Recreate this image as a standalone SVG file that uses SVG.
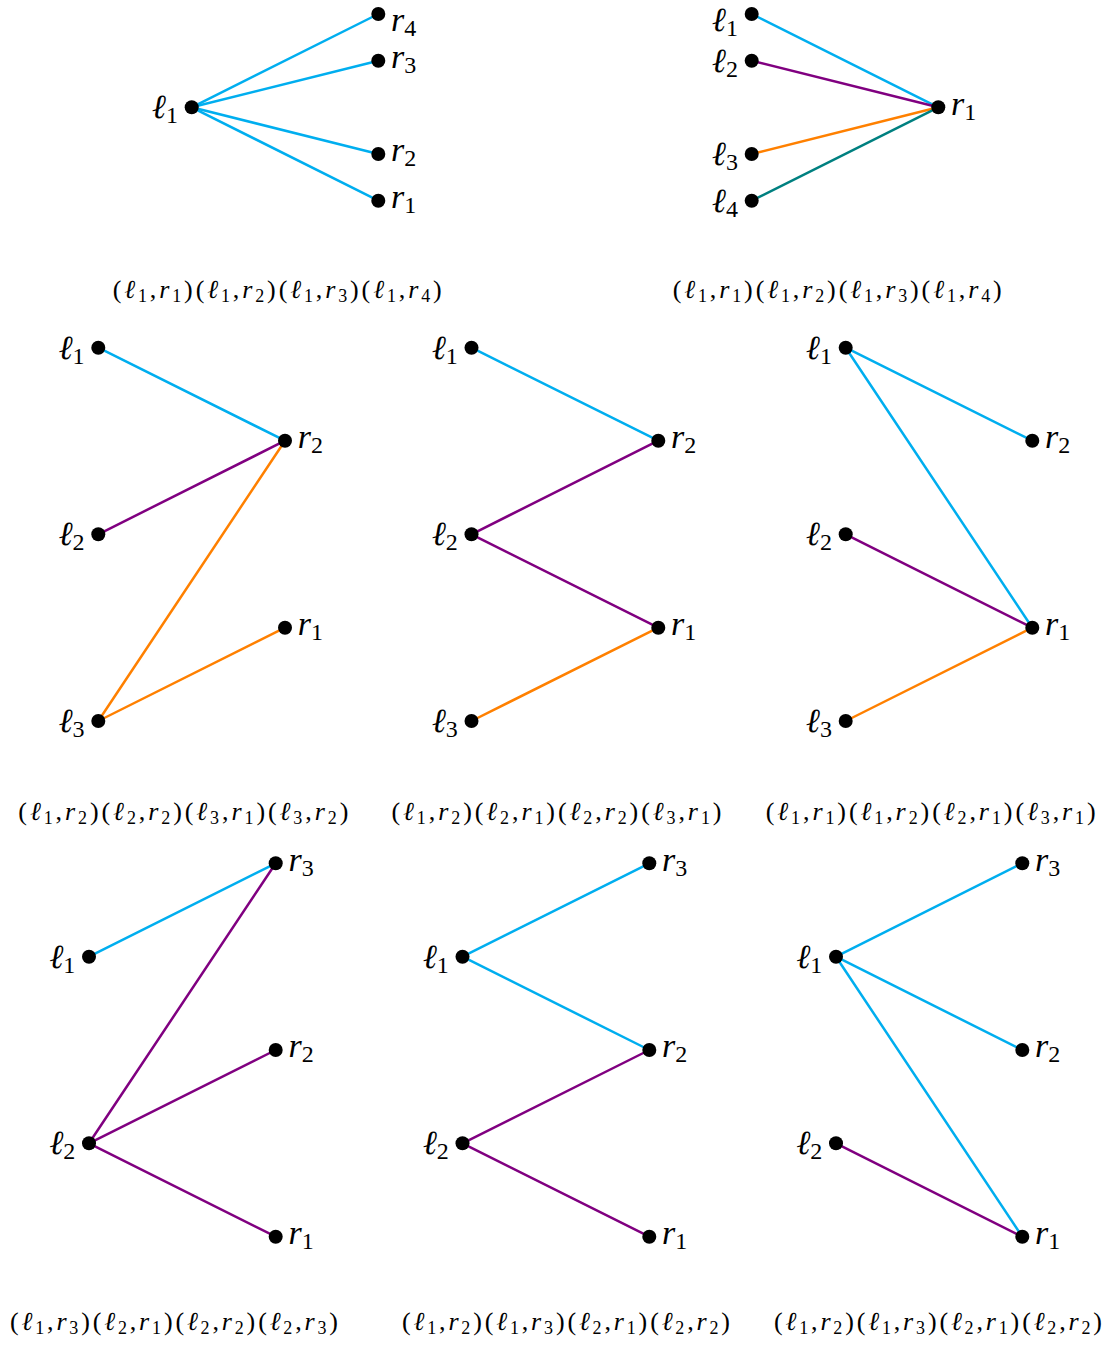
<svg xmlns="http://www.w3.org/2000/svg" width="1112" height="1351" viewBox="0 0 1112 1351">
<style>
.e{stroke-width:2.5;fill:none;stroke-linecap:round}
.c{stroke:#00AEEF}.p{stroke:#800080}.o{stroke:#FF8000}.t{stroke:#008080}
.d{fill:#000}
.lab{font-family:"Liberation Serif","DejaVu Serif",serif;font-size:34px;fill:#000}
.lab .v{font-style:italic}
.lab .s{font-size:24px}
.le{text-anchor:end}
.cap{font-family:"Liberation Serif","DejaVu Serif",serif;font-size:26px;fill:#000}
.cap .v{font-style:italic}
.cap .s{font-size:18px}
</style>
<rect width="1112" height="1351" fill="#fff"/>
<g id="connectors">
<line class="e c" x1="191.7" y1="107.3" x2="378.3" y2="14"/>
<line class="e c" x1="191.7" y1="107.3" x2="378.3" y2="60.7"/>
<line class="e c" x1="191.7" y1="107.3" x2="378.3" y2="154"/>
<line class="e c" x1="191.7" y1="107.3" x2="378.3" y2="200.7"/>
<line class="e c" x1="751.7" y1="14" x2="938.3" y2="107.3"/>
<line class="e p" x1="751.7" y1="60.7" x2="938.3" y2="107.3"/>
<line class="e o" x1="751.7" y1="154" x2="938.3" y2="107.3"/>
<line class="e t" x1="751.7" y1="200.7" x2="938.3" y2="107.3"/>
<line class="e c" x1="98.3" y1="347.7" x2="285" y2="440.7"/>
<line class="e p" x1="98.3" y1="534.3" x2="285" y2="440.7"/>
<line class="e o" x1="98.3" y1="721" x2="285" y2="440.7"/>
<line class="e o" x1="98.3" y1="721" x2="285" y2="627.7"/>
<line class="e c" x1="471.5" y1="347.7" x2="658.3" y2="440.7"/>
<line class="e p" x1="471.5" y1="534.3" x2="658.3" y2="440.7"/>
<line class="e p" x1="471.5" y1="534.3" x2="658.3" y2="627.7"/>
<line class="e o" x1="471.5" y1="721" x2="658.3" y2="627.7"/>
<line class="e c" x1="845.7" y1="347.7" x2="1032.3" y2="440.7"/>
<line class="e c" x1="845.7" y1="347.7" x2="1032.3" y2="627.7"/>
<line class="e p" x1="845.7" y1="534.3" x2="1032.3" y2="627.7"/>
<line class="e o" x1="845.7" y1="721" x2="1032.3" y2="627.7"/>
<line class="e c" x1="89" y1="956.7" x2="275.7" y2="863.3"/>
<line class="e p" x1="89" y1="1143.3" x2="275.7" y2="863.3"/>
<line class="e p" x1="89" y1="1143.3" x2="275.7" y2="1050"/>
<line class="e p" x1="89" y1="1143.3" x2="275.7" y2="1236.7"/>
<line class="e c" x1="462.5" y1="956.7" x2="649.3" y2="863.3"/>
<line class="e c" x1="462.5" y1="956.7" x2="649.3" y2="1050"/>
<line class="e p" x1="462.5" y1="1143.3" x2="649.3" y2="1050"/>
<line class="e p" x1="462.5" y1="1143.3" x2="649.3" y2="1236.7"/>
<line class="e c" x1="836" y1="956.7" x2="1022.3" y2="863.3"/>
<line class="e c" x1="836" y1="956.7" x2="1022.3" y2="1050"/>
<line class="e c" x1="836" y1="956.7" x2="1022.3" y2="1236.7"/>
<line class="e p" x1="836" y1="1143.3" x2="1022.3" y2="1236.7"/>
</g>

<g id="p1">
<g id="p1-l1"><circle class="d" cx="191.7" cy="107.3" r="7"/><text class="lab le" x="178" y="118.3"><tspan class="v">ℓ</tspan><tspan class="s" dy="5">1</tspan></text></g>
<g id="p1-r4"><circle class="d" cx="378.3" cy="14" r="7"/><text class="lab" x="391" y="30.5"><tspan class="v">r</tspan><tspan class="s" dy="5">4</tspan></text></g>
<g id="p1-r3"><circle class="d" cx="378.3" cy="60.7" r="7"/><text class="lab" x="391" y="68"><tspan class="v">r</tspan><tspan class="s" dy="5">3</tspan></text></g>
<g id="p1-r2"><circle class="d" cx="378.3" cy="154" r="7"/><text class="lab" x="391" y="161.3"><tspan class="v">r</tspan><tspan class="s" dy="5">2</tspan></text></g>
<g id="p1-r1"><circle class="d" cx="378.3" cy="200.7" r="7"/><text class="lab" x="391" y="208"><tspan class="v">r</tspan><tspan class="s" dy="5">1</tspan></text></g>
<text id="p1-cap" class="cap" x="112.7" y="298" textLength="329" lengthAdjust="spacing">(<tspan class="v">ℓ</tspan><tspan class="s" dy="4">1</tspan><tspan dy="-4">,</tspan><tspan class="v">r</tspan><tspan class="s" dy="4">1</tspan><tspan dy="-4">)(</tspan><tspan class="v">ℓ</tspan><tspan class="s" dy="4">1</tspan><tspan dy="-4">,</tspan><tspan class="v">r</tspan><tspan class="s" dy="4">2</tspan><tspan dy="-4">)(</tspan><tspan class="v">ℓ</tspan><tspan class="s" dy="4">1</tspan><tspan dy="-4">,</tspan><tspan class="v">r</tspan><tspan class="s" dy="4">3</tspan><tspan dy="-4">)(</tspan><tspan class="v">ℓ</tspan><tspan class="s" dy="4">1</tspan><tspan dy="-4">,</tspan><tspan class="v">r</tspan><tspan class="s" dy="4">4</tspan><tspan dy="-4">)</tspan></text>
</g>

<g id="p2">
<g id="p2-l1"><circle class="d" cx="751.7" cy="14" r="7"/><text class="lab le" x="738" y="31"><tspan class="v">ℓ</tspan><tspan class="s" dy="5">1</tspan></text></g>
<g id="p2-l2"><circle class="d" cx="751.7" cy="60.7" r="7"/><text class="lab le" x="738" y="71.7"><tspan class="v">ℓ</tspan><tspan class="s" dy="5">2</tspan></text></g>
<g id="p2-l3"><circle class="d" cx="751.7" cy="154" r="7"/><text class="lab le" x="738" y="165"><tspan class="v">ℓ</tspan><tspan class="s" dy="5">3</tspan></text></g>
<g id="p2-l4"><circle class="d" cx="751.7" cy="200.7" r="7"/><text class="lab le" x="738" y="211.7"><tspan class="v">ℓ</tspan><tspan class="s" dy="5">4</tspan></text></g>
<g id="p2-r1"><circle class="d" cx="938.3" cy="107.3" r="7"/><text class="lab" x="951" y="114.6"><tspan class="v">r</tspan><tspan class="s" dy="5">1</tspan></text></g>
<text id="p2-cap" class="cap" x="672.7" y="298" textLength="329" lengthAdjust="spacing">(<tspan class="v">ℓ</tspan><tspan class="s" dy="4">1</tspan><tspan dy="-4">,</tspan><tspan class="v">r</tspan><tspan class="s" dy="4">1</tspan><tspan dy="-4">)(</tspan><tspan class="v">ℓ</tspan><tspan class="s" dy="4">1</tspan><tspan dy="-4">,</tspan><tspan class="v">r</tspan><tspan class="s" dy="4">2</tspan><tspan dy="-4">)(</tspan><tspan class="v">ℓ</tspan><tspan class="s" dy="4">1</tspan><tspan dy="-4">,</tspan><tspan class="v">r</tspan><tspan class="s" dy="4">3</tspan><tspan dy="-4">)(</tspan><tspan class="v">ℓ</tspan><tspan class="s" dy="4">1</tspan><tspan dy="-4">,</tspan><tspan class="v">r</tspan><tspan class="s" dy="4">4</tspan><tspan dy="-4">)</tspan></text>
</g>

<g id="p3">
<g id="p3-l1"><circle class="d" cx="98.3" cy="347.7" r="7"/><text class="lab le" x="84.6" y="358.7"><tspan class="v">ℓ</tspan><tspan class="s" dy="5">1</tspan></text></g>
<g id="p3-l2"><circle class="d" cx="98.3" cy="534.3" r="7"/><text class="lab le" x="84.6" y="545.3"><tspan class="v">ℓ</tspan><tspan class="s" dy="5">2</tspan></text></g>
<g id="p3-l3"><circle class="d" cx="98.3" cy="721" r="7"/><text class="lab le" x="84.6" y="732"><tspan class="v">ℓ</tspan><tspan class="s" dy="5">3</tspan></text></g>
<g id="p3-r2"><circle class="d" cx="285" cy="440.7" r="7"/><text class="lab" x="297.7" y="448"><tspan class="v">r</tspan><tspan class="s" dy="5">2</tspan></text></g>
<g id="p3-r1"><circle class="d" cx="285" cy="627.7" r="7"/><text class="lab" x="297.7" y="635"><tspan class="v">r</tspan><tspan class="s" dy="5">1</tspan></text></g>
<text id="p3-cap" class="cap" x="18.3" y="820" textLength="330" lengthAdjust="spacing">(<tspan class="v">ℓ</tspan><tspan class="s" dy="4">1</tspan><tspan dy="-4">,</tspan><tspan class="v">r</tspan><tspan class="s" dy="4">2</tspan><tspan dy="-4">)(</tspan><tspan class="v">ℓ</tspan><tspan class="s" dy="4">2</tspan><tspan dy="-4">,</tspan><tspan class="v">r</tspan><tspan class="s" dy="4">2</tspan><tspan dy="-4">)(</tspan><tspan class="v">ℓ</tspan><tspan class="s" dy="4">3</tspan><tspan dy="-4">,</tspan><tspan class="v">r</tspan><tspan class="s" dy="4">1</tspan><tspan dy="-4">)(</tspan><tspan class="v">ℓ</tspan><tspan class="s" dy="4">3</tspan><tspan dy="-4">,</tspan><tspan class="v">r</tspan><tspan class="s" dy="4">2</tspan><tspan dy="-4">)</tspan></text>
</g>

<g id="p4">
<g id="p4-l1"><circle class="d" cx="471.5" cy="347.7" r="7"/><text class="lab le" x="457.8" y="358.7"><tspan class="v">ℓ</tspan><tspan class="s" dy="5">1</tspan></text></g>
<g id="p4-l2"><circle class="d" cx="471.5" cy="534.3" r="7"/><text class="lab le" x="457.8" y="545.3"><tspan class="v">ℓ</tspan><tspan class="s" dy="5">2</tspan></text></g>
<g id="p4-l3"><circle class="d" cx="471.5" cy="721" r="7"/><text class="lab le" x="457.8" y="732"><tspan class="v">ℓ</tspan><tspan class="s" dy="5">3</tspan></text></g>
<g id="p4-r2"><circle class="d" cx="658.3" cy="440.7" r="7"/><text class="lab" x="671" y="448"><tspan class="v">r</tspan><tspan class="s" dy="5">2</tspan></text></g>
<g id="p4-r1"><circle class="d" cx="658.3" cy="627.7" r="7"/><text class="lab" x="671" y="635"><tspan class="v">r</tspan><tspan class="s" dy="5">1</tspan></text></g>
<text id="p4-cap" class="cap" x="391.5" y="820" textLength="330" lengthAdjust="spacing">(<tspan class="v">ℓ</tspan><tspan class="s" dy="4">1</tspan><tspan dy="-4">,</tspan><tspan class="v">r</tspan><tspan class="s" dy="4">2</tspan><tspan dy="-4">)(</tspan><tspan class="v">ℓ</tspan><tspan class="s" dy="4">2</tspan><tspan dy="-4">,</tspan><tspan class="v">r</tspan><tspan class="s" dy="4">1</tspan><tspan dy="-4">)(</tspan><tspan class="v">ℓ</tspan><tspan class="s" dy="4">2</tspan><tspan dy="-4">,</tspan><tspan class="v">r</tspan><tspan class="s" dy="4">2</tspan><tspan dy="-4">)(</tspan><tspan class="v">ℓ</tspan><tspan class="s" dy="4">3</tspan><tspan dy="-4">,</tspan><tspan class="v">r</tspan><tspan class="s" dy="4">1</tspan><tspan dy="-4">)</tspan></text>
</g>

<g id="p5">
<g id="p5-l1"><circle class="d" cx="845.7" cy="347.7" r="7"/><text class="lab le" x="832" y="358.7"><tspan class="v">ℓ</tspan><tspan class="s" dy="5">1</tspan></text></g>
<g id="p5-l2"><circle class="d" cx="845.7" cy="534.3" r="7"/><text class="lab le" x="832" y="545.3"><tspan class="v">ℓ</tspan><tspan class="s" dy="5">2</tspan></text></g>
<g id="p5-l3"><circle class="d" cx="845.7" cy="721" r="7"/><text class="lab le" x="832" y="732"><tspan class="v">ℓ</tspan><tspan class="s" dy="5">3</tspan></text></g>
<g id="p5-r2"><circle class="d" cx="1032.3" cy="440.7" r="7"/><text class="lab" x="1045" y="448"><tspan class="v">r</tspan><tspan class="s" dy="5">2</tspan></text></g>
<g id="p5-r1"><circle class="d" cx="1032.3" cy="627.7" r="7"/><text class="lab" x="1045" y="635"><tspan class="v">r</tspan><tspan class="s" dy="5">1</tspan></text></g>
<text id="p5-cap" class="cap" x="765.7" y="820" textLength="330" lengthAdjust="spacing">(<tspan class="v">ℓ</tspan><tspan class="s" dy="4">1</tspan><tspan dy="-4">,</tspan><tspan class="v">r</tspan><tspan class="s" dy="4">1</tspan><tspan dy="-4">)(</tspan><tspan class="v">ℓ</tspan><tspan class="s" dy="4">1</tspan><tspan dy="-4">,</tspan><tspan class="v">r</tspan><tspan class="s" dy="4">2</tspan><tspan dy="-4">)(</tspan><tspan class="v">ℓ</tspan><tspan class="s" dy="4">2</tspan><tspan dy="-4">,</tspan><tspan class="v">r</tspan><tspan class="s" dy="4">1</tspan><tspan dy="-4">)(</tspan><tspan class="v">ℓ</tspan><tspan class="s" dy="4">3</tspan><tspan dy="-4">,</tspan><tspan class="v">r</tspan><tspan class="s" dy="4">1</tspan><tspan dy="-4">)</tspan></text>
</g>

<g id="p6">
<g id="p6-l1"><circle class="d" cx="89" cy="956.7" r="7"/><text class="lab le" x="75.3" y="967.7"><tspan class="v">ℓ</tspan><tspan class="s" dy="5">1</tspan></text></g>
<g id="p6-l2"><circle class="d" cx="89" cy="1143.3" r="7"/><text class="lab le" x="75.3" y="1154.3"><tspan class="v">ℓ</tspan><tspan class="s" dy="5">2</tspan></text></g>
<g id="p6-r3"><circle class="d" cx="275.7" cy="863.3" r="7"/><text class="lab" x="288.4" y="870.6"><tspan class="v">r</tspan><tspan class="s" dy="5">3</tspan></text></g>
<g id="p6-r2"><circle class="d" cx="275.7" cy="1050" r="7"/><text class="lab" x="288.4" y="1057.3"><tspan class="v">r</tspan><tspan class="s" dy="5">2</tspan></text></g>
<g id="p6-r1"><circle class="d" cx="275.7" cy="1236.7" r="7"/><text class="lab" x="288.4" y="1244"><tspan class="v">r</tspan><tspan class="s" dy="5">1</tspan></text></g>
<text id="p6-cap" class="cap" x="10" y="1330" textLength="328" lengthAdjust="spacing">(<tspan class="v">ℓ</tspan><tspan class="s" dy="4">1</tspan><tspan dy="-4">,</tspan><tspan class="v">r</tspan><tspan class="s" dy="4">3</tspan><tspan dy="-4">)(</tspan><tspan class="v">ℓ</tspan><tspan class="s" dy="4">2</tspan><tspan dy="-4">,</tspan><tspan class="v">r</tspan><tspan class="s" dy="4">1</tspan><tspan dy="-4">)(</tspan><tspan class="v">ℓ</tspan><tspan class="s" dy="4">2</tspan><tspan dy="-4">,</tspan><tspan class="v">r</tspan><tspan class="s" dy="4">2</tspan><tspan dy="-4">)(</tspan><tspan class="v">ℓ</tspan><tspan class="s" dy="4">2</tspan><tspan dy="-4">,</tspan><tspan class="v">r</tspan><tspan class="s" dy="4">3</tspan><tspan dy="-4">)</tspan></text>
</g>

<g id="p7">
<g id="p7-l1"><circle class="d" cx="462.5" cy="956.7" r="7"/><text class="lab le" x="448.8" y="967.7"><tspan class="v">ℓ</tspan><tspan class="s" dy="5">1</tspan></text></g>
<g id="p7-l2"><circle class="d" cx="462.5" cy="1143.3" r="7"/><text class="lab le" x="448.8" y="1154.3"><tspan class="v">ℓ</tspan><tspan class="s" dy="5">2</tspan></text></g>
<g id="p7-r3"><circle class="d" cx="649.3" cy="863.3" r="7"/><text class="lab" x="662" y="870.6"><tspan class="v">r</tspan><tspan class="s" dy="5">3</tspan></text></g>
<g id="p7-r2"><circle class="d" cx="649.3" cy="1050" r="7"/><text class="lab" x="662" y="1057.3"><tspan class="v">r</tspan><tspan class="s" dy="5">2</tspan></text></g>
<g id="p7-r1"><circle class="d" cx="649.3" cy="1236.7" r="7"/><text class="lab" x="662" y="1244"><tspan class="v">r</tspan><tspan class="s" dy="5">1</tspan></text></g>
<text id="p7-cap" class="cap" x="402" y="1330" textLength="328" lengthAdjust="spacing">(<tspan class="v">ℓ</tspan><tspan class="s" dy="4">1</tspan><tspan dy="-4">,</tspan><tspan class="v">r</tspan><tspan class="s" dy="4">2</tspan><tspan dy="-4">)(</tspan><tspan class="v">ℓ</tspan><tspan class="s" dy="4">1</tspan><tspan dy="-4">,</tspan><tspan class="v">r</tspan><tspan class="s" dy="4">3</tspan><tspan dy="-4">)(</tspan><tspan class="v">ℓ</tspan><tspan class="s" dy="4">2</tspan><tspan dy="-4">,</tspan><tspan class="v">r</tspan><tspan class="s" dy="4">1</tspan><tspan dy="-4">)(</tspan><tspan class="v">ℓ</tspan><tspan class="s" dy="4">2</tspan><tspan dy="-4">,</tspan><tspan class="v">r</tspan><tspan class="s" dy="4">2</tspan><tspan dy="-4">)</tspan></text>
</g>

<g id="p8">
<g id="p8-l1"><circle class="d" cx="836" cy="956.7" r="7"/><text class="lab le" x="822.3" y="967.7"><tspan class="v">ℓ</tspan><tspan class="s" dy="5">1</tspan></text></g>
<g id="p8-l2"><circle class="d" cx="836" cy="1143.3" r="7"/><text class="lab le" x="822.3" y="1154.3"><tspan class="v">ℓ</tspan><tspan class="s" dy="5">2</tspan></text></g>
<g id="p8-r3"><circle class="d" cx="1022.3" cy="863.3" r="7"/><text class="lab" x="1035" y="870.6"><tspan class="v">r</tspan><tspan class="s" dy="5">3</tspan></text></g>
<g id="p8-r2"><circle class="d" cx="1022.3" cy="1050" r="7"/><text class="lab" x="1035" y="1057.3"><tspan class="v">r</tspan><tspan class="s" dy="5">2</tspan></text></g>
<g id="p8-r1"><circle class="d" cx="1022.3" cy="1236.7" r="7"/><text class="lab" x="1035" y="1244"><tspan class="v">r</tspan><tspan class="s" dy="5">1</tspan></text></g>
<text id="p8-cap" class="cap" x="774" y="1330" textLength="328" lengthAdjust="spacing">(<tspan class="v">ℓ</tspan><tspan class="s" dy="4">1</tspan><tspan dy="-4">,</tspan><tspan class="v">r</tspan><tspan class="s" dy="4">2</tspan><tspan dy="-4">)(</tspan><tspan class="v">ℓ</tspan><tspan class="s" dy="4">1</tspan><tspan dy="-4">,</tspan><tspan class="v">r</tspan><tspan class="s" dy="4">3</tspan><tspan dy="-4">)(</tspan><tspan class="v">ℓ</tspan><tspan class="s" dy="4">2</tspan><tspan dy="-4">,</tspan><tspan class="v">r</tspan><tspan class="s" dy="4">1</tspan><tspan dy="-4">)(</tspan><tspan class="v">ℓ</tspan><tspan class="s" dy="4">2</tspan><tspan dy="-4">,</tspan><tspan class="v">r</tspan><tspan class="s" dy="4">2</tspan><tspan dy="-4">)</tspan></text>
</g>
</svg>
